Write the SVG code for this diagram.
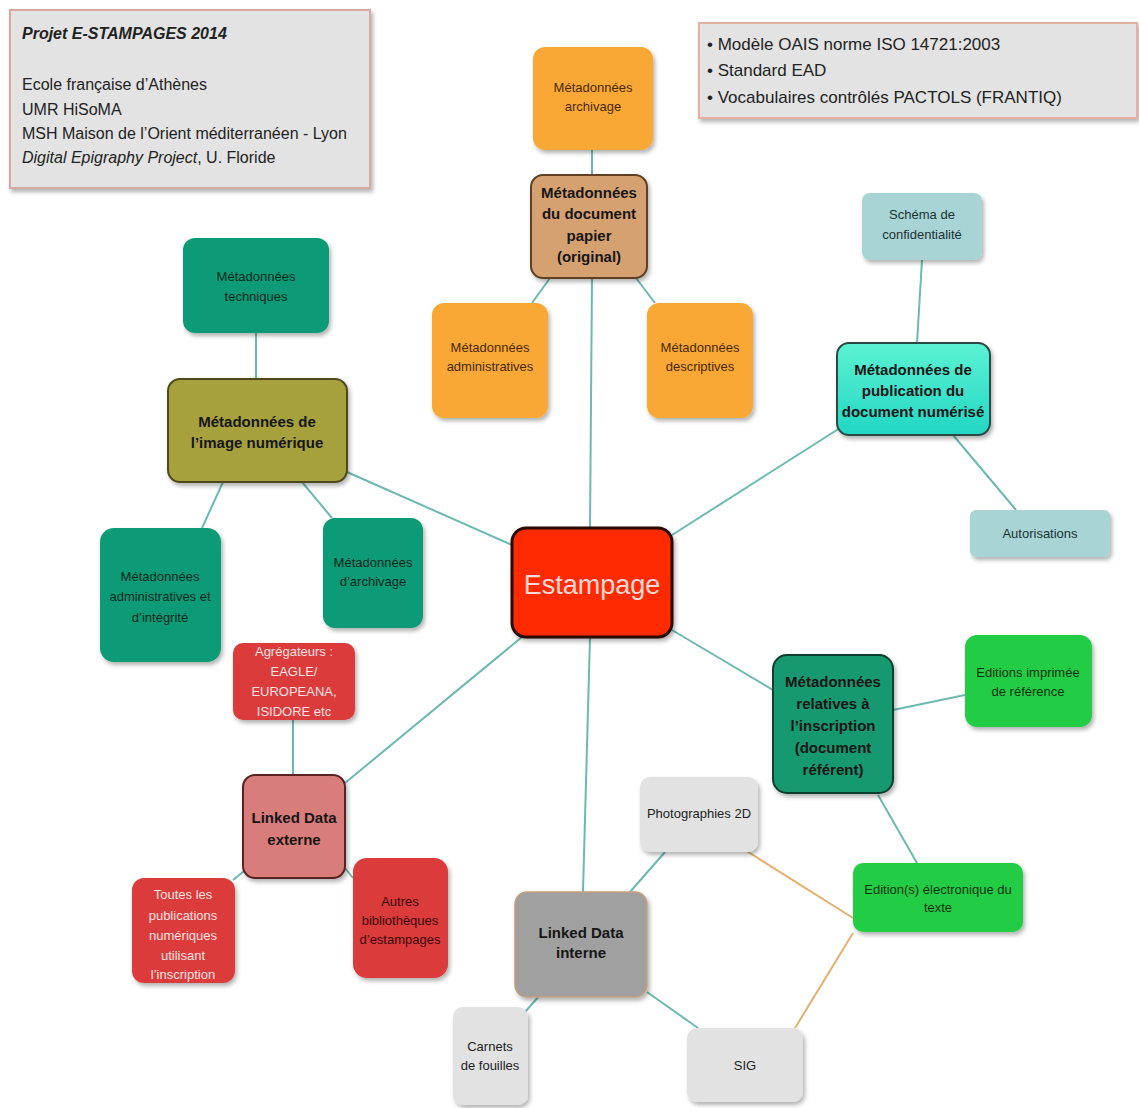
<svg xmlns="http://www.w3.org/2000/svg" width="1139" height="1108" viewBox="0 0 1139 1108">
<style>
text{font-family:"Liberation Sans",Arial,sans-serif;text-anchor:middle}
.s{font-size:13px}
.b{font-size:15px;font-weight:bold}
.info{font-size:16px;text-anchor:start;fill:#222}
.info2{font-size:17px;text-anchor:start;fill:#222}
.ln{stroke:#6cb9b0;stroke-width:2;fill:none}
.lo{stroke:#e4b070;stroke-width:2;fill:none}
.or{fill:#f9a834}
.or-t{fill:#4a2804}
.tg{fill:#0f9a76}
.tg-t{fill:#042a20}
.lb{fill:#a9d4d6}
.lb-t{fill:#1a3234}
.bg{fill:#22cc44}
.bg-t{fill:#083410}
.rd{fill:#dc3b3b}
.rd-t{fill:#ffe2e2}
.gy{fill:#e2e2e2}
.gy-t{fill:#222}
.par-t{fill:#161616}
</style>
<defs>
<filter id="sh" x="-10%" y="-10%" width="130%" height="130%">
<feDropShadow dx="2" dy="3" stdDeviation="2" flood-color="#000" flood-opacity="0.3"/>
</filter>
<linearGradient id="aq" x1="0" y1="0" x2="0" y2="1">
<stop offset="0" stop-color="#5cf2d2"/>
<stop offset="1" stop-color="#22d6c4"/>
</linearGradient>
</defs>

<g id="info-left">
<rect x="10" y="10" width="360" height="178" fill="#e3e3e3" stroke="#d9a8a2" stroke-width="2" filter="url(#sh)"/>
<text class="info" x="22" y="39" font-weight="bold" font-style="italic">Projet E-STAMPAGES 2014</text>
<text class="info" x="22" y="90">Ecole française d’Athènes</text>
<text class="info" x="22" y="115">UMR HiSoMA</text>
<text class="info" x="22" y="139">MSH Maison de l’Orient méditerranéen - Lyon</text>
<text class="info" x="22" y="163"><tspan font-style="italic">Digital Epigraphy Project</tspan>, U. Floride</text>
</g>

<g id="info-right">
<rect x="699" y="23" width="438" height="95" fill="#e3e3e3" stroke="#e4b0a0" stroke-width="2" filter="url(#sh)"/>
<text class="info2" x="707" y="50">• Modèle OAIS norme ISO 14721:2003</text>
<text class="info2" x="707" y="76">• Standard EAD</text>
<text class="info2" x="707" y="103">• Vocabulaires contrôlés PACTOLS (FRANTIQ)</text>
</g>

<g id="connectors">
<line class="ln" x1="592" y1="150" x2="592" y2="175"/>
<line class="ln" x1="550" y1="278" x2="532" y2="303"/>
<line class="ln" x1="636" y1="278" x2="655" y2="303"/>
<line class="ln" x1="592" y1="278" x2="590" y2="528"/>
<line class="ln" x1="256" y1="333" x2="256" y2="379"/>
<line class="ln" x1="223" y1="482" x2="202" y2="528"/>
<line class="ln" x1="302" y1="482" x2="332" y2="518"/>
<line class="ln" x1="347" y1="472" x2="512" y2="545"/>
<line class="ln" x1="922" y1="260" x2="917" y2="343"/>
<line class="ln" x1="953" y1="435" x2="1016" y2="510"/>
<line class="ln" x1="840" y1="428" x2="672" y2="535"/>
<line class="ln" x1="672" y1="630" x2="773" y2="690"/>
<line class="ln" x1="893" y1="710" x2="965" y2="695"/>
<line class="ln" x1="878" y1="795" x2="917" y2="863"/>
<line class="ln" x1="590" y1="637" x2="583" y2="892"/>
<line class="ln" x1="665" y1="852" x2="630" y2="892"/>
<line class="ln" x1="540" y1="995" x2="525" y2="1012"/>
<line class="ln" x1="647" y1="992" x2="698" y2="1028"/>
<line class="lo" x1="745" y1="850" x2="853" y2="918"/>
<line class="lo" x1="853" y1="933" x2="795" y2="1028"/>
<line class="ln" x1="522" y1="637" x2="345" y2="783"/>
<line class="ln" x1="293" y1="720" x2="293" y2="775"/>
<line class="ln" x1="248" y1="868" x2="233" y2="880"/>
<line class="ln" x1="345" y1="868" x2="353" y2="878"/>
</g>

<g id="estampage">
<rect x="512" y="528" width="160" height="109" rx="14" fill="#ff2a00" stroke="#2a0a00" stroke-width="3" filter="url(#sh)"/>
<text x="592" y="594" font-size="27" fill="#ffd8d8">Estampage</text>
</g>

<g id="meta-archivage">
<rect class="or" x="533" y="47" width="120" height="103" rx="12" filter="url(#sh)"/>
<text class="s or-t" x="593" y="92">Métadonnées</text>
<text class="s or-t" x="593" y="111">archivage</text>
</g>
<g id="meta-papier">
<rect x="531" y="175" width="116" height="103" rx="12" fill="#d6a171" stroke="#5e4024" stroke-width="2" filter="url(#sh)"/>
<text class="b par-t" x="589" y="198">Métadonnées</text>
<text class="b par-t" x="589" y="219">du document</text>
<text class="b par-t" x="589" y="241">papier</text>
<text class="b par-t" x="589" y="262">(original)</text>
</g>
<g id="meta-administratives">
<rect class="or" x="432" y="303" width="116" height="115" rx="12" filter="url(#sh)"/>
<text class="s or-t" x="490" y="352">Métadonnées</text>
<text class="s or-t" x="490" y="371">administratives</text>
</g>
<g id="meta-descriptives">
<rect class="or" x="647" y="303" width="106" height="115" rx="12" filter="url(#sh)"/>
<text class="s or-t" x="700" y="352">Métadonnées</text>
<text class="s or-t" x="700" y="371">descriptives</text>
</g>

<g id="meta-techniques">
<rect class="tg" x="183" y="238" width="146" height="95" rx="12" filter="url(#sh)"/>
<text class="s tg-t" x="256" y="281">Métadonnées</text>
<text class="s tg-t" x="256" y="301">techniques</text>
</g>
<g id="meta-image">
<rect x="168" y="379" width="179" height="103" rx="12" fill="#a6a03c" stroke="#4e4a1c" stroke-width="2" filter="url(#sh)"/>
<text class="b par-t" x="257" y="427">Métadonnées de</text>
<text class="b par-t" x="257" y="448">l’image numérique</text>
</g>
<g id="meta-admin-integrite">
<rect class="tg" x="100" y="528" width="121" height="134" rx="14" filter="url(#sh)"/>
<text class="s tg-t" x="160" y="581">Métadonnées</text>
<text class="s tg-t" x="160" y="601">administratives et</text>
<text class="s tg-t" x="160" y="622">d’intégrité</text>
</g>
<g id="meta-d-archivage">
<rect class="tg" x="323" y="518" width="100" height="110" rx="12" filter="url(#sh)"/>
<text class="s tg-t" x="373" y="567">Métadonnées</text>
<text class="s tg-t" x="373" y="586">d’archivage</text>
</g>

<g id="schema-confidentialite">
<rect class="lb" x="862" y="193" width="120" height="67" rx="8" filter="url(#sh)"/>
<text class="s lb-t" x="922" y="219">Schéma de</text>
<text class="s lb-t" x="922" y="239">confidentialité</text>
</g>
<g id="meta-publication">
<rect x="837" y="343" width="153" height="92" rx="12" fill="url(#aq)" stroke="#2a4a44" stroke-width="2" filter="url(#sh)"/>
<text class="b par-t" x="913" y="375">Métadonnées de</text>
<text class="b par-t" x="913" y="396">publication du</text>
<text class="b par-t" x="913" y="417">document numérisé</text>
</g>
<g id="autorisations">
<rect class="lb" x="970" y="510" width="140" height="47" rx="6" filter="url(#sh)"/>
<text class="s lb-t" x="1040" y="538">Autorisations</text>
</g>

<g id="meta-inscription">
<rect x="773" y="655" width="120" height="138" rx="14" fill="#17986f" stroke="#0b3e2e" stroke-width="2" filter="url(#sh)"/>
<text class="b par-t" x="833" y="687">Métadonnées</text>
<text class="b par-t" x="833" y="709">relatives à</text>
<text class="b par-t" x="833" y="731">l’inscription</text>
<text class="b par-t" x="833" y="753">(document</text>
<text class="b par-t" x="833" y="775">référent)</text>
</g>
<g id="editions-imprimees">
<rect class="bg" x="965" y="635" width="127" height="92" rx="12" filter="url(#sh)"/>
<text class="s bg-t" x="1028" y="677">Editions imprimée</text>
<text class="s bg-t" x="1028" y="696">de référence</text>
</g>
<g id="edition-electronique">
<rect class="bg" x="853" y="863" width="170" height="69" rx="10" filter="url(#sh)"/>
<text class="s bg-t" x="938" y="894">Edition(s) électronique du</text>
<text class="s bg-t" x="938" y="912">texte</text>
</g>

<g id="agregateurs">
<rect class="rd" x="233" y="643" width="122" height="77" rx="10" filter="url(#sh)"/>
<text class="s rd-t" x="294" y="656">Agrégateurs :</text>
<text class="s rd-t" x="294" y="676">EAGLE/</text>
<text class="s rd-t" x="294" y="696">EUROPEANA,</text>
<text class="s rd-t" x="294" y="716">ISIDORE etc</text>
</g>
<g id="linked-externe">
<rect x="243" y="775" width="102" height="103" rx="12" fill="#d97c7c" stroke="#5a2222" stroke-width="2" filter="url(#sh)"/>
<text class="b par-t" x="294" y="823">Linked Data</text>
<text class="b par-t" x="294" y="845">externe</text>
</g>
<g id="toutes-publications">
<rect class="rd" x="132" y="878" width="103" height="105" rx="12" filter="url(#sh)"/>
<text class="s rd-t" x="183" y="899">Toutes les</text>
<text class="s rd-t" x="183" y="920">publications</text>
<text class="s rd-t" x="183" y="940">numériques</text>
<text class="s rd-t" x="183" y="960">utilisant</text>
<text class="s rd-t" x="183" y="979">l’inscription</text>
</g>
<g id="autres-bibliotheques">
<rect class="rd" x="353" y="858" width="95" height="120" rx="14" filter="url(#sh)"/>
<text class="s" x="400" y="906" fill="#3a0808">Autres</text>
<text class="s" x="400" y="925" fill="#3a0808">bibliothèques</text>
<text class="s" x="400" y="944" fill="#3a0808">d’estampages</text>
</g>

<g id="photographies">
<rect class="gy" x="640" y="777" width="118" height="75" rx="10" filter="url(#sh)"/>
<text class="s gy-t" x="699" y="818">Photographies 2D</text>
</g>
<g id="linked-interne">
<rect x="515" y="892" width="132" height="105" rx="12" fill="#a0a0a0" stroke="#c4a080" stroke-width="1.5" filter="url(#sh)"/>
<text class="b par-t" x="581" y="938">Linked Data</text>
<text class="b par-t" x="581" y="958">interne</text>
</g>
<g id="carnets">
<rect class="gy" x="453" y="1007" width="75" height="98" rx="10" filter="url(#sh)"/>
<text class="s gy-t" x="490" y="1051">Carnets</text>
<text class="s gy-t" x="490" y="1070">de fouilles</text>
</g>
<g id="sig">
<rect class="gy" x="687" y="1028" width="116" height="74" rx="10" filter="url(#sh)"/>
<text class="s gy-t" x="745" y="1070">SIG</text>
</g>
</svg>
